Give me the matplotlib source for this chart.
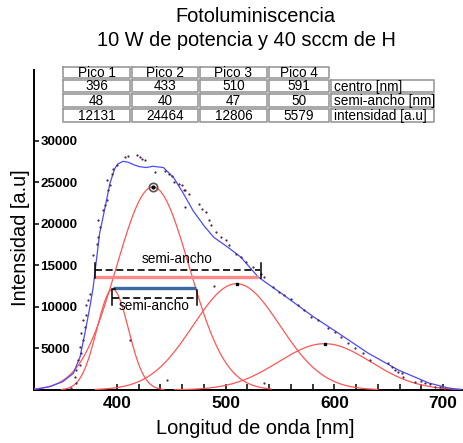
import matplotlib
matplotlib.use("Agg")
import matplotlib.pyplot as plt
import numpy as np
from matplotlib.lines import Line2D
from matplotlib import font_manager

plt.rcParams['font.family'] = ['Liberation Sans', 'DejaVu Sans']
names = {f.name for f in font_manager.fontManager.ttflist}
narrow = 'Liberation Sans Narrow' if 'Liberation Sans Narrow' in names else None

# ---------------- data ----------------
peak_names = ["Pico 1", "Pico 2", "Pico 3", "Pico 4"]
table_centro = ["396", "433", "510", "591"]
table_semi = ["48", "40", "47", "50"]
table_int = ["12131", "24464", "12806", "5579"]
row_labels = ["centro [nm]", "semi-ancho [nm]", "intensidad [a.u]"]

# Gaussian fit components as drawn (center nm, height, sigma nm)
peak_center = [396, 433, 510, 591]
peak_height = [12131, 24464, 12806, 5579]
peak_sigma = [14.5, 33.5, 40.0, 42.5]

# total fit (blue)
fit_x = [322, 338, 350, 359.8, 366, 370.4, 375, 378, 380, 384, 389, 393.5, 398, 401,
         405.5, 410, 416, 421, 427, 433, 442.7, 452, 461, 470, 480, 489, 502, 514,
         530, 551, 581, 603.7, 631, 659, 687, 705, 720]
fit_y = [0, 400, 1000, 2000, 4000, 6800, 10000, 12300, 14500, 18870, 22000, 24900, 26700, 27250,
         27550, 27450, 27100, 26900, 26800, 26950, 26800, 25600, 23700, 21600, 19800, 18400, 17200, 16000,
         13600, 11660, 8800, 6850, 4450, 2400, 840, 240, 0]

pts_x = [358, 361.1, 362.6, 362.6, 364.2, 365.7, 365.7, 367.3, 367.3, 368.8, 368.8, 370.4,
         371.9, 371.9, 373.4, 375, 378, 381.2, 382.7, 384.3, 382.7, 387.3, 388.9, 390.5,
         392, 393.5, 390.5, 395, 396.6, 399.7, 407.4, 410.5, 418.2, 421.3, 422.9, 425.9,
         435.2, 444.4, 447.5, 450.6, 452.1, 456.8, 459.9, 461.4, 463, 466, 463, 475.3,
         478.3, 481.5, 484.5, 486.1, 490.7, 495.4, 500, 503, 509.3, 514, 518.5, 524.7,
         532.4, 535.5, 543.2, 549.4, 554, 560.2, 566.4, 572.5, 578.7, 584.9, 594.2, 600.3,
         606.5, 612.7, 618.8, 626.6, 632.7, 649.7, 652.8, 655.9, 659, 662, 663.6, 674.4,
         680, 683.6, 688, 692.9, 697, 702.1, 412, 446, 489, 535.5]
pts_y = [200, 1600, 800, 2400, 3610, 3010, 5200, 6810, 4410, 8410, 6010, 7610,
         10220, 9010, 10820, 11620, 16230, 17630, 18430, 19630, 20430, 21640, 22240, 22840,
         24040, 24640, 25240, 26050, 26650, 27050, 28040, 28130, 28250, 28040, 27850, 27650,
         26240, 26440, 26050, 25840, 25040, 24840, 24640, 24040, 22030, 23640, 24040, 22430,
         21830, 21430, 20430, 19830, 19030, 18430, 18030, 17430, 16430, 16020, 15430, 14830,
         14030, 13620, 12420, 11820, 11420, 11020, 10220, 9620, 8810, 8410, 7420, 7010,
         6410, 5610, 5010, 4410, 3610, 3210, 2800, 2400, 2200, 2000, 1600, 1000,
         1100, 800, 700, 400, 350, 80, 6010, 1200, 12500, 800]

# half-width annotations (nm, intensity)
total_hw_x = [379.8, 529.6]
total_hw_y = 13580
total_dash_y = 14420
peak2_hw_x = [396.6, 473.1]
peak2_hw_y = 12340
peak2_dash_y = 11140

# ---------------- figure ----------------
W, H = 464, 443
fig = plt.figure(figsize=(W / 100, H / 100), dpi=100)
ax = fig.add_axes([34 / W, 1 - 390 / H, (462 - 34) / W, (390 - 70) / H])
ax.set_xlim(323.6, 717.5)
ax.set_ylim(0, 38550)

red = '#ff5555'
for c, h, s in zip(peak_center, peak_height, peak_sigma):
    xx = np.linspace(c - 3.25 * s, c + 3.25 * s, 300)
    ax.plot(xx, h * np.exp(-(xx - c) ** 2 / (2 * s ** 2)), color=red, lw=0.9, zorder=3)

ax.plot(fit_x, fit_y, color='#4a4aff', lw=0.9, zorder=4)
ax.scatter(pts_x, pts_y, s=2.6, color='#4a2850', lw=0, zorder=5)

# peak markers
ax.plot([peak_center[1]], [peak_height[1]], marker='o', ms=6, mfc='none', mec='#555555', mew=1.2, zorder=6)
ax.plot([peak_center[1]], [peak_height[1]], marker='o', ms=2, color='black', zorder=6)
ax.plot(peak_center[2:], peak_height[2:], ls='none', marker='s', ms=2, color='black', zorder=6)

# annotations
ax.plot(total_hw_x, [total_hw_y] * 2, color='#ff8a8a', lw=2.4, solid_capstyle='butt', zorder=6)
ax.plot(peak2_hw_x, [peak2_hw_y] * 2, color='#3a6aa0', lw=2.4, solid_capstyle='butt', zorder=6)
ax.plot([total_hw_x[0], total_hw_x[1] + 2], [total_dash_y] * 2, color='black', lw=1.2, dashes=(4.2, 2.2), zorder=7)
ax.plot([peak2_hw_x[0] - 1.5, peak2_hw_x[1]], [peak2_dash_y] * 2, color='black', lw=1.2, dashes=(4.2, 2.2), zorder=7)
for xb, yb in [(total_hw_x[0], total_dash_y), (total_hw_x[1] + 2.5, total_dash_y)]:
    ax.plot([xb, xb], [yb - 900, yb + 900], color='black', lw=1.1, zorder=7)
for xb, yb in [(peak2_hw_x[0] - 1.5, peak2_dash_y), (peak2_hw_x[1] + 0.5, peak2_dash_y)]:
    ax.plot([xb, xb], [yb - 900, yb + 900], color='black', lw=1.1, zorder=7)
ax.plot([peak2_hw_x[0] - 1.5, peak2_hw_x[0] + 2], [peak_height[0]] * 2, color='black', lw=1.1, zorder=7)
ax.text(455, 14950, "semi-ancho", ha='center', va='bottom', fontsize=9.8)
ax.text(434, 10950, "semi-ancho", ha='center', va='top', fontsize=9.8)

# axes styling
for sp in ['top', 'right']:
    ax.spines[sp].set_visible(False)
ax.spines['left'].set_linewidth(1.4)
ax.spines['bottom'].set_linewidth(1.4)
ax.set_xticks([400, 500, 600, 700])
ax.set_xticks(np.arange(400, 701, 20), minor=True)
ax.set_yticks([5000, 10000, 15000, 20000, 25000, 30000])
ax.tick_params(axis='x', which='both', direction='in', length=4.5, width=1.1, pad=4,
               labelsize=12.5)
ax.tick_params(axis='y', which='major', direction='in', length=3.5, width=1.1, pad=-4.5,
               labelsize=9.6)
for lab in ax.get_xticklabels():
    lab.set_fontweight('bold')
for lab in ax.get_yticklabels():
    lab.set_fontweight('bold')
    lab.set_ha('left')

fig.text(21 / W, 1 - 238 / H, "Intensidad [a.u]", rotation=90, ha='center', va='center', fontsize=14.4)
fig.text(255 / W, 1 - 428 / H, "Longitud de onda [nm]", ha='center', va='center', fontsize=14.4)
fig.text(255 / W, 1 - 16 / H, "Fotoluminiscencia", ha='center', va='center', fontsize=14.4)
fig.text(246 / W, 1 - 40 / H, "10 W de potencia y 40 sccm de H", ha='center', va='center', fontsize=14.4)

# table
cx = [62, 131, 199, 268, 330, 435]
ry = [66, 79, 93, 108, 123]
gray = '#999999'
tfam = [narrow, 'Liberation Sans'] if narrow else ['Liberation Sans']
tsize = 11.8 if narrow else 9.8

def fx(x):
    return x / W

def fy(y):
    return 1 - y / H

def box(x0, y0, x1, y1):
    fig.add_artist(Line2D([fx(x0), fx(x1), fx(x1), fx(x0), fx(x0)],
                          [fy(y0), fy(y0), fy(y1), fy(y1), fy(y0)], color=gray, lw=1.2))

rows = [peak_names, table_centro, table_semi, table_int]
for r, vals in enumerate(rows):
    for c, v in enumerate(vals):
        box(cx[c] + 1, ry[r] + 1, cx[c + 1] - 1, ry[r + 1] - 1)
        fig.text(fx((cx[c] + cx[c + 1]) / 2), fy((ry[r] + ry[r + 1]) / 2 + 0.5), v,
                 ha='center', va='center', fontsize=tsize, family=tfam)
    if r > 0:
        box(cx[4] + 1, ry[r] + 1, cx[5] - 1, ry[r + 1] - 1)
        fig.text(fx(cx[4] + 4), fy((ry[r] + ry[r + 1]) / 2 + 0.5), row_labels[r - 1],
                 ha='left', va='center', fontsize=tsize, family=tfam)

fig.savefig("out.png", dpi=100)
